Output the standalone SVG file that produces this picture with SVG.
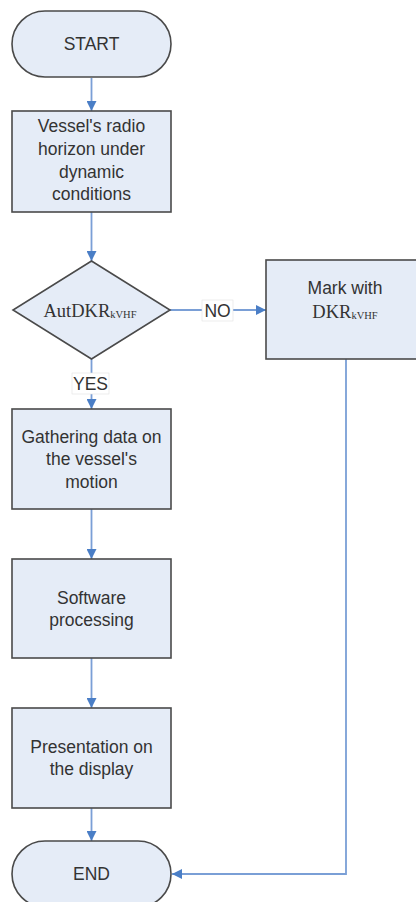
<svg xmlns="http://www.w3.org/2000/svg" width="416" height="902" viewBox="0 0 416 902">
<defs>
<marker id="ah" viewBox="0 0 10 10" refX="10" refY="5" markerWidth="10" markerHeight="10" markerUnits="userSpaceOnUse" orient="auto">
<path d="M0,0 L10,5 L0,10 z" fill="#4a7ec6"/>
</marker>
</defs>
<style>
.n{fill:#e5ecf7;stroke:#4a4a4a;stroke-width:1.6}
.t{font-family:"Liberation Sans",Arial,sans-serif;font-size:17.5px;fill:#333;text-anchor:middle}
.s{font-family:"Liberation Serif","Times New Roman",serif;fill:#333}
.c{fill:none;stroke:#7a9fd6;stroke-width:1.8}
.lb{fill:#fff;stroke:#e2e2e2;stroke-width:0.6}
</style>
<rect width="416" height="902" fill="#fff"/>
<g id="connectors">
<line class="c" x1="91.5" y1="78" x2="91.5" y2="111" marker-end="url(#ah)"/>
<line class="c" x1="91.5" y1="212" x2="91.5" y2="261" marker-end="url(#ah)"/>
<line class="c" x1="170" y1="310" x2="266" y2="310" marker-end="url(#ah)"/>
<line class="c" x1="91.5" y1="359" x2="91.5" y2="409" marker-end="url(#ah)"/>
<line class="c" x1="91.5" y1="509" x2="91.5" y2="559" marker-end="url(#ah)"/>
<line class="c" x1="91.5" y1="658" x2="91.5" y2="708" marker-end="url(#ah)"/>
<line class="c" x1="91.5" y1="808" x2="91.5" y2="841" marker-end="url(#ah)"/>
<polyline class="c" points="346,359 346,874 172,874" marker-end="url(#ah)"/>
<rect class="lb" x="202" y="300" width="31" height="21"/>
<text class="t" x="217.5" y="316.5">NO</text>
<rect class="lb" x="72" y="373" width="37" height="21"/>
<text class="t" x="90.5" y="389.5">YES</text>
</g>
<g id="start">
<rect class="n" x="12" y="11" width="159" height="66" rx="33" ry="33"/>
<text class="t" x="91.5" y="49.5">START</text>
</g>
<g id="radio-horizon">
<rect class="n" x="12" y="111" width="159" height="101"/>
<text class="t" x="91.5" y="131.5">Vessel's radio</text>
<text class="t" x="91.5" y="155">horizon under</text>
<text class="t" x="91.5" y="178">dynamic</text>
<text class="t" x="91.5" y="199.5">conditions</text>
</g>
<g id="decision">
<polygon class="n" points="91.5,261 170,310 91.5,359 13,310"/>
<text class="s" x="90" y="316.5" text-anchor="middle" font-size="18.5">AutDKR<tspan font-size="10.5" dy="1">kVHF</tspan></text>
</g>
<g id="mark">
<rect class="n" x="266" y="260" width="158" height="99"/>
<text class="t" x="345" y="293.5">Mark with</text>
<text class="s" x="345" y="318" text-anchor="middle" font-size="18.5">DKR<tspan font-size="10.5" dy="1">kVHF</tspan></text>
</g>
<g id="gathering">
<rect class="n" x="12" y="409" width="159" height="100"/>
<text class="t" x="91.5" y="442.5">Gathering data on</text>
<text class="t" x="91.5" y="464.5">the vessel's</text>
<text class="t" x="91.5" y="487.5">motion</text>
</g>
<g id="software">
<rect class="n" x="12" y="559" width="159" height="99"/>
<text class="t" x="91.5" y="603.5">Software</text>
<text class="t" x="91.5" y="625.5">processing</text>
</g>
<g id="presentation">
<rect class="n" x="12" y="708" width="159" height="100"/>
<text class="t" x="91.5" y="752.5">Presentation on</text>
<text class="t" x="91.5" y="774.5">the display</text>
</g>
<g id="end">
<rect class="n" x="12" y="841" width="159" height="66" rx="33" ry="33"/>
<text class="t" x="91.5" y="879.5">END</text>
</g>
</svg>
